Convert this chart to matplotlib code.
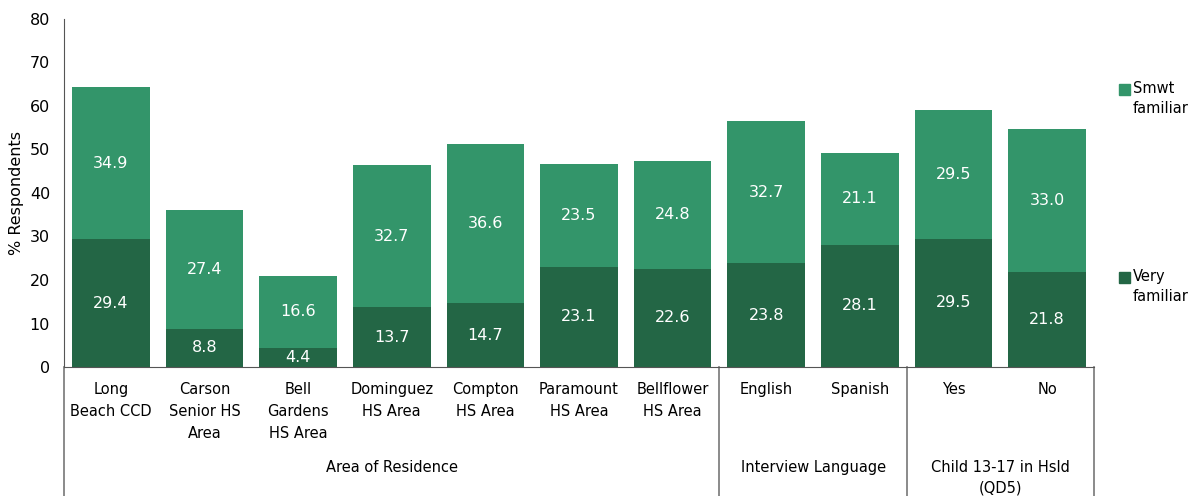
import matplotlib.pyplot as plt
from matplotlib.patches import Rectangle
import numpy as np

categories = ['Long\nBeach CCD', 'Carson\nSenior HS\nArea', 'Bell\nGardens\nHS Area',
              'Dominguez\nHS Area', 'Compton\nHS Area', 'Paramount\nHS Area',
              'Bellflower\nHS Area', 'English', 'Spanish', 'Yes', 'No']
very_familiar = [29.4, 8.8, 4.4, 13.7, 14.7, 23.1, 22.6, 23.8, 28.1, 29.5, 21.8]
smwt_familiar = [34.9, 27.4, 16.6, 32.7, 36.6, 23.5, 24.8, 32.7, 21.1, 29.5, 33.0]
groups = ['Area of Residence', 'Interview Language', 'Child 13-17 in Hsld\n(QD5)']
group_sizes = [7, 2, 2]

dark = '#236645'
light = '#33956a'

fig = plt.figure(figsize=(11.95, 4.96), dpi=100)
ax = fig.add_axes([64 / 1195, 1 - 367 / 496, 1030 / 1195, 348 / 496])

x = np.arange(len(categories))
w = 0.83
ax.bar(x, very_familiar, w, color=dark)
ax.bar(x, smwt_familiar, w, bottom=very_familiar, color=light)

for i in range(len(x)):
    ax.text(x[i], very_familiar[i] / 2, '%.1f' % very_familiar[i], ha='center', va='center',
            color='white', fontsize=11.5)
    ax.text(x[i], very_familiar[i] + smwt_familiar[i] / 2, '%.1f' % smwt_familiar[i],
            ha='center', va='center', color='white', fontsize=11.5)

ax.set_xlim(-0.5, len(x) - 0.5)
ax.set_ylim(0, 80)
ax.set_yticks(range(0, 81, 10))
ax.tick_params(axis='y', length=0, labelsize=11.5, pad=10)
ax.set_xticks([])
for s in ['top', 'right']:
    ax.spines[s].set_visible(False)
ax.spines['left'].set_color('#555555')
ax.spines['bottom'].set_color('#555555')
ax.set_ylabel('% Respondents', fontsize=11.5)

# category labels
for i, c in enumerate(categories):
    ax.text(x[i], -3.4, c, ha='center', va='top', fontsize=10.5, linespacing=1.6)

# group separators and labels
bounds = [0]
for g in group_sizes:
    bounds.append(bounds[-1] + g)
for b in bounds:
    ax.plot([b - 0.5, b - 0.5], [0, -30], color='#777777', lw=1.2, clip_on=False)
for k, g in enumerate(groups):
    mid = (bounds[k] + bounds[k + 1] - 1) / 2
    ax.text(mid, -21.3, g, ha='center', va='top', fontsize=10.5, linespacing=1.5)

# legend drawn by hand so the swatch sits by the first line
for label, color, ytop in [('Smwt\nfamiliar', light, 84), ('Very\nfamiliar', dark, 272)]:
    fig.patches.append(Rectangle((1119 / 1195, 1 - (ytop + 11) / 496), 11 / 1195, 11 / 496,
                                 color=color, transform=fig.transFigure))
    fig.text(1133 / 1195, 1 - (ytop - 3) / 496, label, ha='left', va='top',
             fontsize=10.5, linespacing=1.4)

fig.savefig('out.png', dpi=100)
